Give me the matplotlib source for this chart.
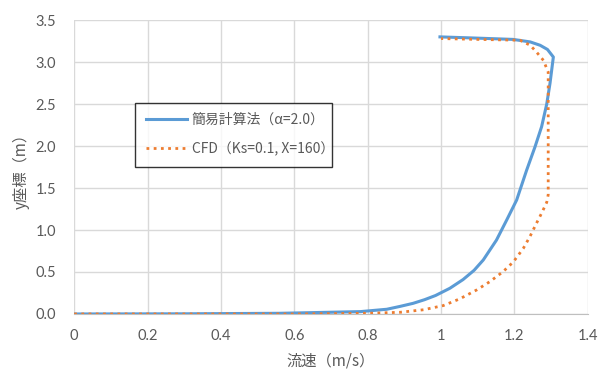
import numpy as np
import matplotlib.pyplot as plt

plt.rcParams['font.family'] = ['Noto Sans CJK JP', 'DejaVu Sans']

# 簡易計算法 (α=2.0)
simple_u = [0.0, 0.3, 0.56, 0.65, 0.78, 0.852, 0.888, 0.924, 0.955, 0.985, 1.024, 1.06,
            1.09, 1.115, 1.151, 1.179, 1.206, 1.233, 1.256, 1.274, 1.288, 1.297, 1.306,
            1.29, 1.27, 1.243, 1.196, 1.1, 0.997]
simple_y = [0.0, 0.002, 0.008, 0.016, 0.028, 0.056, 0.09, 0.127, 0.17, 0.22, 0.306, 0.41,
            0.52, 0.643, 0.88, 1.12, 1.357, 1.71, 1.99, 2.23, 2.5, 2.75, 3.06,
            3.15, 3.2, 3.24, 3.27, 3.285, 3.30]

# CFD (Ks=0.1, X=160)
cfd_u = [0.0, 0.6, 0.8, 0.888, 0.952, 1.006, 1.051, 1.097, 1.133, 1.169, 1.197, 1.224,
         1.242, 1.26, 1.274, 1.288, 1.292, 1.292, 1.292, 1.292, 1.279, 1.26, 1.243,
         1.215, 1.1, 1.0]
cfd_y = [0.0, 0.0, 0.008, 0.02, 0.05, 0.1, 0.18, 0.286, 0.385, 0.504, 0.62, 0.78,
         0.92, 1.08, 1.2, 1.33, 1.42, 2.0, 2.6, 2.88, 3.02, 3.12, 3.2,
         3.26, 3.27, 3.28]

xticks = [0, 0.2, 0.4, 0.6, 0.8, 1.0, 1.2, 1.4]
xtick_labels = ["0", "0.2", "0.4", "0.6", "0.8", "1", "1.2", "1.4"]
yticks = [0.0, 0.5, 1.0, 1.5, 2.0, 2.5, 3.0, 3.5]

gray = "#595959"
fig = plt.figure(figsize=(5.98, 3.72), dpi=100)
ax = fig.add_axes([0.124, 0.156, 0.859, 0.79])

ax.plot(simple_u, simple_y, color="#5B9BD5", lw=2.2, label="簡易計算法（α=2.0）",
        zorder=3, solid_joinstyle="round")
ax.plot(cfd_u, cfd_y, color="#ED7D31", lw=2.0, ls=(0, (1, 1.6)), label="CFD（Ks=0.1, X=160）", zorder=3)

ax.set_xlim(0, 1.4)
ax.set_ylim(0, 3.5)
ax.set_xticks(xticks)
ax.set_xticklabels(xtick_labels)
ax.set_yticks(yticks)
ax.set_yticklabels([f"{v:.1f}" for v in yticks])
ax.grid(True, color="#d9d9d9", lw=1)
ax.set_axisbelow(True)
for s in ["top", "right", "left"]:
    ax.spines[s].set_visible(False)
ax.spines["bottom"].set_color("#bfbfbf")
ax.tick_params(length=0, colors=gray, labelsize=10.5)
ax.tick_params(axis="x", pad=11)
ax.tick_params(axis="y", pad=13)
for lab in ax.get_xticklabels() + ax.get_yticklabels():
    lab.set_family("Lato")

ax.set_xlabel("流速（m/s）", color=gray, fontsize=11, labelpad=7)
ax.set_ylabel("y座標（m）", color=gray, fontsize=11, labelpad=4)

leg = ax.legend(loc="lower left", bbox_to_anchor=(0.119, 0.501, 0.382, 0.21), mode="expand",
                fontsize=10, frameon=True, fancybox=False, borderaxespad=0,
                handlelength=3.0, handletextpad=0.3, labelspacing=1.05, borderpad=0.75)
leg.get_frame().set_edgecolor("#000000")
leg.get_frame().set_linewidth(1.0)
for t in leg.get_texts():
    t.set_color(gray)

fig.savefig("out.png", dpi=100)
